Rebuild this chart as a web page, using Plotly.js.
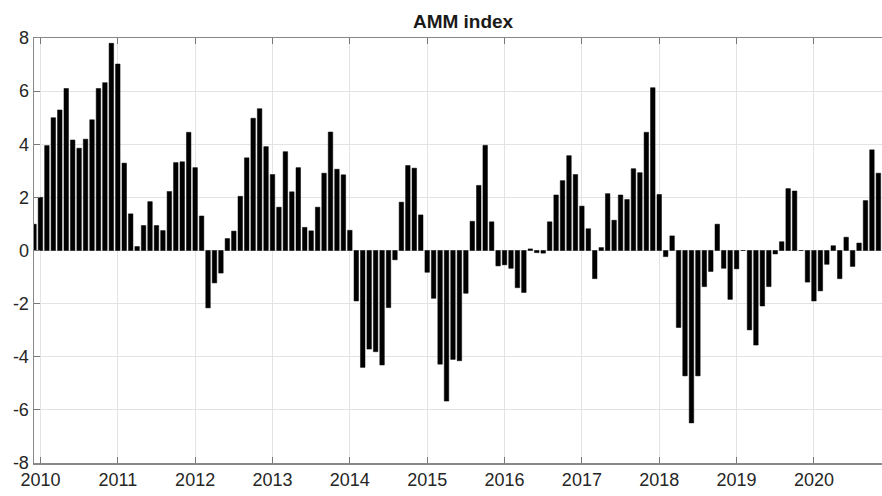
<!DOCTYPE html>
<html>
<head>
<meta charset="utf-8">
<script src="https://cdn.plot.ly/plotly-3.0.1.min.js"></script>
<style>html,body{margin:0;padding:0;background:#fff;}#chart{width:882px;height:496px;}</style>
</head>
<body>
<div id="chart"></div>
<script>
// Monthly AMM index values, first bar = Dec 2009
var startYear = 2009;
var startMonth = 12;
var ammValues = [
  0.99, 2.00, 3.95, 5.00, 5.29, 6.10, 4.16, 3.85, 4.19, 4.92, 6.10, 6.32,
  7.80, 7.02, 3.29, 1.38, 0.15, 0.94, 1.84, 0.94, 0.75, 2.22, 3.31, 3.34,
  4.45, 3.12, 1.30, -2.16, -1.22, -0.85, 0.45, 0.73, 2.04, 3.49, 4.98, 5.34,
  3.91, 2.86, 1.63, 3.72, 2.21, 3.12, 0.87, 0.74, 1.63, 2.91, 4.46, 3.06,
  2.85, 0.76, -1.90, -4.40, -3.71, -3.81, -4.31, -2.15, -0.35, 1.82, 3.20, 3.10,
  1.34, -0.82, -1.80, -4.28, -5.67, -4.10, -4.15, -1.61, 1.10, 2.45, 3.96, 1.08,
  -0.58, -0.54, -0.67, -1.40, -1.58, 0.06, -0.08, -0.10, 1.08, 2.09, 2.63, 3.57,
  2.86, 1.67, 0.82, -1.06, 0.11, 2.14, 1.14, 2.09, 1.92, 3.08, 2.93, 4.45,
  6.13, 2.11, -0.23, 0.55, -2.90, -4.72, -6.49, -4.72, -1.36, -0.79, 0.99, -0.67,
  -1.84, -0.69, 0.00, -2.99, -3.56, -2.09, -1.36, -0.13, 0.33, 2.33, 2.24, 0.00,
  -1.19, -1.90, -1.52, -0.52, 0.18, -1.06, 0.50, -0.60, 0.28, 1.88, 3.79, 2.91
];
var yearTicks = [2010, 2011, 2012, 2013, 2014, 2015, 2016, 2017, 2018, 2019, 2020];
var yearLabels = ['2010', '2011', '2012', '2013', '2014', '2015', '2016', '2017', '2018', '2019', '2020'];
var yTicks = [-8, -6, -4, -2, 0, 2, 4, 6, 8];

// time positions (fractional years) for each monthly value
var xPos = ammValues.map(function (v, i) {
  var m = (startMonth - 1) + i;
  return startYear + Math.floor(m / 12) + (m % 12) / 12;
});

var trace = {
  type: 'bar',
  x: xPos,
  y: ammValues,
  marker: { color: '#000000', line: { color: '#000000', width: 0.5 } },
  hoverinfo: 'x+y'
};

var fontFam = '"Liberation Sans", Arial, Helvetica, sans-serif';
var layout = {
  width: 882,
  height: 496,
  margin: { l: 34, r: 0, t: 38, b: 33, pad: 0 },
  paper_bgcolor: '#ffffff',
  plot_bgcolor: '#ffffff',
  showlegend: false,
  bargap: 0.3,
  title: {
    text: '<b>AMM index</b>',
    font: { family: fontFam, size: 19, color: '#1a1a1a' },
    x: 0.525, xanchor: 'center',
    y: 0.957, yanchor: 'middle'
  },
  xaxis: {
    range: [startYear + (startMonth - 1) / 12, 2020.88],
    tickvals: yearTicks,
    ticktext: yearLabels,
    ticks: 'inside',
    ticklen: 6,
    tickcolor: '#777777',
    showline: true,
    linecolor: '#888888',
    linewidth: 1.5,
    mirror: 'ticks',
    showgrid: true,
    gridcolor: '#e3e3e3',
    gridwidth: 1,
    zeroline: false,
    tickfont: { family: fontFam, size: 18, color: '#262626' }
  },
  yaxis: {
    range: [-8, 8],
    tickvals: yTicks,
    ticktext: yTicks.map(String),
    ticks: 'inside',
    ticklen: 6,
    tickcolor: '#777777',
    showline: true,
    linecolor: '#888888',
    linewidth: 1.5,
    mirror: false,
    showgrid: true,
    gridcolor: '#e3e3e3',
    gridwidth: 1,
    zeroline: false,
    tickfont: { family: fontFam, size: 18, color: '#262626' }
  }
};

Plotly.newPlot('chart', [trace], layout, { displayModeBar: false, staticPlot: true });
</script>
</body>
</html>
